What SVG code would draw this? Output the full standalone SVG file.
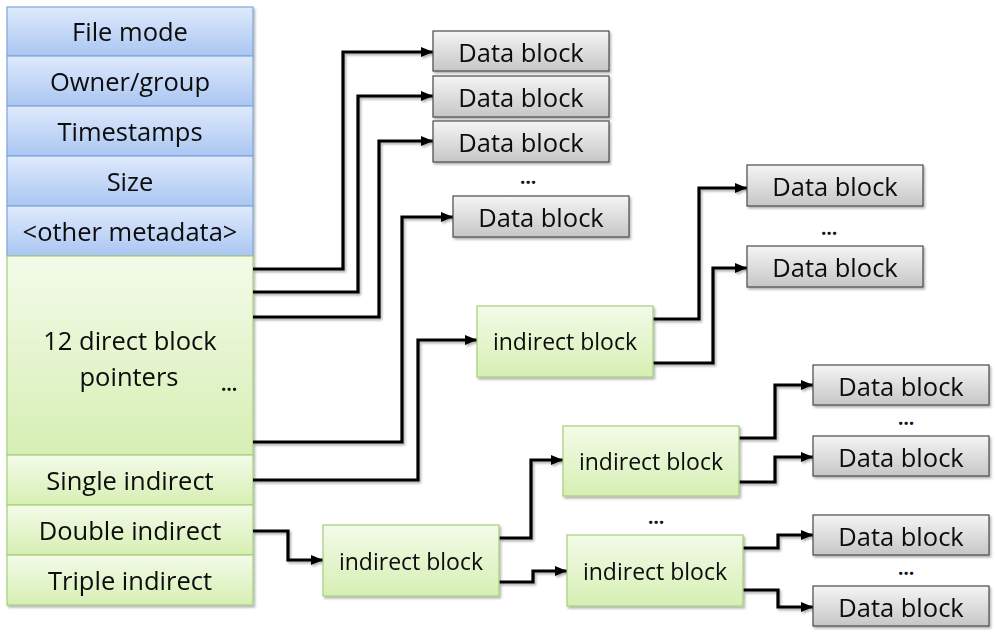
<svg xmlns="http://www.w3.org/2000/svg" width="995" height="634" viewBox="0 0 995 634">
<defs>
<linearGradient id="gBlue" x1="0" y1="0" x2="0" y2="1"><stop offset="0" stop-color="#dfeafc"/><stop offset="1" stop-color="#aac6f2"/></linearGradient>
<linearGradient id="gGreen" x1="0" y1="0" x2="0" y2="1"><stop offset="0" stop-color="#f3fbe9"/><stop offset="1" stop-color="#d6efb3"/></linearGradient>
<linearGradient id="gGray" x1="0" y1="0" x2="0" y2="1"><stop offset="0" stop-color="#f5f5f5"/><stop offset="1" stop-color="#c6c6c6"/></linearGradient>
<filter id="sh" x="-10%" y="-10%" width="130%" height="140%"><feDropShadow dx="1.5" dy="2" stdDeviation="1.2" flood-color="#000" flood-opacity="0.3"/></filter>
<marker id="arr" markerUnits="userSpaceOnUse" markerWidth="13" markerHeight="11" refX="12" refY="5.5" orient="auto"><path d="M0,0.5 L12,5.5 L0,10.5 Z" fill="#000"/></marker>
</defs>
<style>
.blue{fill:url(#gBlue);stroke:#7ea6dc;stroke-width:1.2}
.green{fill:url(#gGreen);stroke:#a6cf78;stroke-width:1.2}
.gray{fill:url(#gGray);stroke:#4a4a4a;stroke-width:1.2}
.t{font-family:"Open Sans","Liberation Sans",sans-serif;font-size:25.5px;fill:#0a0a0a;text-anchor:middle}
.ti{font-family:"Open Sans","Liberation Sans",sans-serif;font-size:23px;fill:#0a0a0a;text-anchor:middle}
.dots{font-family:"Open Sans","Liberation Sans",sans-serif;font-size:19px;font-weight:bold;fill:#111;text-anchor:middle}
.c{fill:none;stroke:#000;stroke-width:3.2;marker-end:url(#arr)}
</style>

<g id="inode" filter="url(#sh)">
<g id="file-mode"><rect class="blue" x="7" y="7" width="246" height="49"/><text class="t" x="130" y="41">File mode</text></g>
<g id="owner-group"><rect class="blue" x="7" y="56" width="246" height="50"/><text class="t" x="130" y="91">Owner/group</text></g>
<g id="timestamps"><rect class="blue" x="7" y="106" width="246" height="50"/><text class="t" x="130" y="141">Timestamps</text></g>
<g id="size"><rect class="blue" x="7" y="156" width="246" height="50"/><text class="t" x="130" y="191">Size</text></g>
<g id="other-metadata"><rect class="blue" x="7" y="206" width="246" height="50"/><text class="t" x="130" y="241">&lt;other metadata&gt;</text></g>
<g id="direct-pointers"><rect class="green" x="7" y="256" width="246" height="199"/><text class="t" x="130" y="350">12 direct block</text><text class="t" x="129" y="386">pointers</text><text class="dots" x="229" y="391">…</text></g>
<g id="single-indirect"><rect class="green" x="7" y="455" width="246" height="50"/><text class="t" x="130" y="490">Single indirect</text></g>
<g id="double-indirect"><rect class="green" x="7" y="505" width="246" height="50"/><text class="t" x="130" y="540">Double indirect</text></g>
<g id="triple-indirect"><rect class="green" x="7" y="555" width="246" height="50"/><text class="t" x="130" y="590">Triple indirect</text></g>
</g>

<g id="connectors" filter="url(#sh)">
<path class="c" d="M253,269 H343 V52 H433"/>
<path class="c" d="M253,292 H358 V96 H433"/>
<path class="c" d="M253,317 H379 V141 H433"/>
<path class="c" d="M253,442 H402 V217 H453"/>
<path class="c" d="M253,480 H418 V340 H477"/>
<path class="c" d="M653,319 H699 V188 H747"/>
<path class="c" d="M653,363 H713 V268 H747"/>
<path class="c" d="M253,531 H288 V560 H323"/>
<path class="c" d="M499,538 H531 V460 H563"/>
<path class="c" d="M499,582 H533 V571 H567"/>
<path class="c" d="M739,438 H775 V385 H813"/>
<path class="c" d="M739,482 H775 V457 H813"/>
<path class="c" d="M743,548 H778 V535 H813"/>
<path class="c" d="M743,590 H778 V607 H813"/>
</g>

<g id="data-1" filter="url(#sh)"><rect class="gray" x="433" y="31" width="176" height="40"/><text class="t" x="521" y="62">Data block</text></g>
<g id="data-2" filter="url(#sh)"><rect class="gray" x="433" y="76" width="176" height="41"/><text class="t" x="521" y="107">Data block</text></g>
<g id="data-3" filter="url(#sh)"><rect class="gray" x="433" y="121" width="176" height="41"/><text class="t" x="521" y="152">Data block</text></g>
<text class="dots" x="528" y="184">…</text>
<g id="data-4" filter="url(#sh)"><rect class="gray" x="453" y="196" width="176" height="41"/><text class="t" x="541" y="227">Data block</text></g>

<g id="indirect-1" filter="url(#sh)"><rect class="green" x="477" y="306" width="176" height="71"/><text class="ti" x="565" y="350">indirect block</text></g>
<g id="data-5" filter="url(#sh)"><rect class="gray" x="747" y="165" width="176" height="41"/><text class="t" x="835" y="196">Data block</text></g>
<text class="dots" x="829" y="235">…</text>
<g id="data-6" filter="url(#sh)"><rect class="gray" x="747" y="246" width="176" height="41"/><text class="t" x="835" y="277">Data block</text></g>

<g id="indirect-2" filter="url(#sh)"><rect class="green" x="323" y="525" width="176" height="71"/><text class="ti" x="411" y="570">indirect block</text></g>
<g id="indirect-3" filter="url(#sh)"><rect class="green" x="563" y="426" width="176" height="70"/><text class="ti" x="651" y="470">indirect block</text></g>
<text class="dots" x="656" y="524">…</text>
<g id="indirect-4" filter="url(#sh)"><rect class="green" x="567" y="535" width="176" height="71"/><text class="ti" x="655" y="580">indirect block</text></g>

<g id="data-7" filter="url(#sh)"><rect class="gray" x="813" y="365" width="176" height="40"/><text class="t" x="901" y="396">Data block</text></g>
<text class="dots" x="906" y="425">…</text>
<g id="data-8" filter="url(#sh)"><rect class="gray" x="813" y="436" width="176" height="40"/><text class="t" x="901" y="467">Data block</text></g>
<g id="data-9" filter="url(#sh)"><rect class="gray" x="813" y="515" width="176" height="40"/><text class="t" x="901" y="546">Data block</text></g>
<text class="dots" x="906" y="575">…</text>
<g id="data-10" filter="url(#sh)"><rect class="gray" x="813" y="586" width="176" height="40"/><text class="t" x="901" y="617">Data block</text></g>
</svg>
